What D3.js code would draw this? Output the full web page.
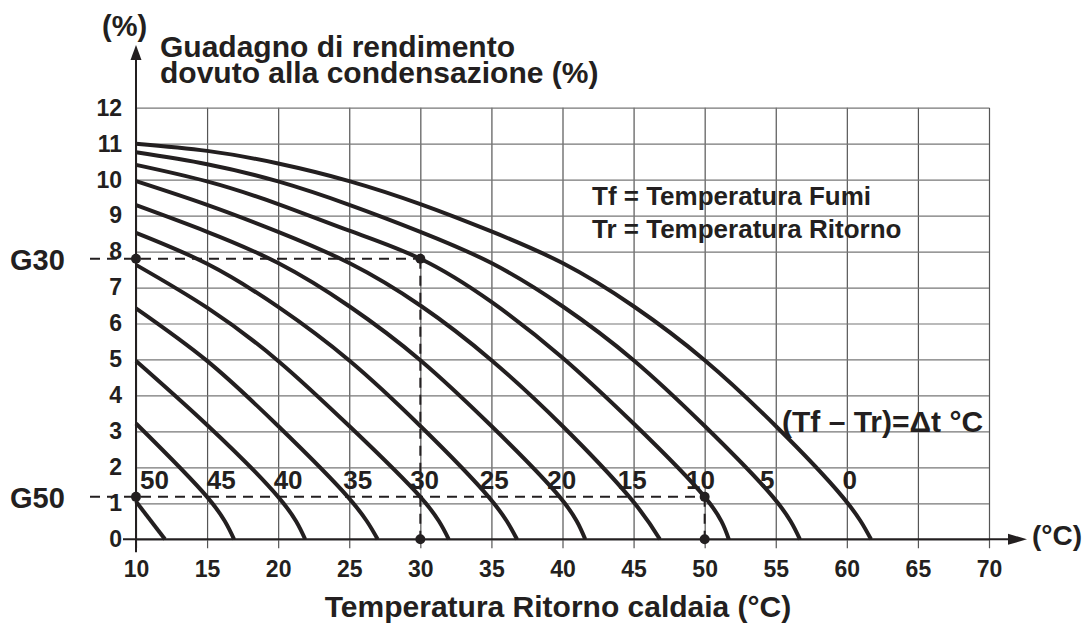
<!DOCTYPE html>
<html>
<head>
<meta charset="utf-8">
<script src="https://cdn.jsdelivr.net/npm/d3@7"></script>
<style>
  body { margin: 0; background: #fff; }
  svg text { font-family: "Liberation Sans", Arial, Helvetica, sans-serif; font-weight: bold; fill: #231f20; }
</style>
</head>
<body>
<svg id="chart" width="1084" height="625"></svg>
<script>
(function(){
  // tick values
  var xTicks = [10, 15, 20, 25, 30, 35, 40, 45, 50, 55, 60, 65, 70];
  var yTicks = [0, 1, 2, 3, 4, 5, 6, 7, 8, 9, 10, 11, 12];

  // one curve per (Tf - Tr) = dt, points [Tr, gain %]
  var deltaT = [0, 5, 10, 15, 20, 25, 30, 35, 40, 45, 50];
  var curveDt0  = [[10,11.0],[15,10.8],[20,10.45],[25,9.96],[30,9.32],[35,8.56],[40,7.68],[45,6.48],[50,4.98],[55,3.15],[59.7,1.18],[61.7,0]];
  var curveDt5  = [[10,10.76],[15,10.43],[20,9.95],[25,9.3],[30,8.55],[35,7.68],[40,6.48],[45,4.98],[50,3.15],[54.8,1.18],[56.7,0]];
  var curveDt10 = [[10,10.41],[15,9.95],[20,9.32],[25,8.58],[30,7.8],[35,6.6],[40,5.05],[45,3.22],[50,1.18],[51.7,0]];
  var curveDt15 = [[10,9.96],[15,9.3],[20,8.55],[25,7.68],[30,6.5],[35,4.98],[40,3.15],[44.7,1.18],[46.85,0]];
  var curveDt20 = [[10,9.29],[15,8.55],[20,7.68],[25,6.48],[30,4.98],[35,3.15],[39.8,1.18],[41.6,0]];
  var curveDt25 = [[10,8.52],[15,7.66],[20,6.46],[25,4.97],[30,3.15],[34.8,1.18],[36.8,0]];
  var curveDt30 = [[10,7.63],[15,6.44],[20,4.96],[25,3.15],[30,1.18],[32,0]];
  var curveDt35 = [[10,6.42],[15,4.96],[20,3.15],[24.9,1.18],[27,0]];
  var curveDt40 = [[10,4.96],[15,3.18],[20,1.18],[21.9,0]];
  var curveDt45 = [[10,3.22],[15,1.18],[16.9,0]];
  var curveDt50 = [[10,1.05],[12.04,0]];
  var curvePoints = [curveDt0, curveDt5, curveDt10, curveDt15, curveDt20, curveDt25,
                     curveDt30, curveDt35, curveDt40, curveDt45, curveDt50];
  // where the dt numbers sit along the Tr axis
  var labelTr = [60.2, 54.4, 49.7, 44.9, 39.95, 35.2, 30.3, 25.6, 20.7, 16.0, 11.3];

  // reading examples (label, Tr, gain)
  var readLabels = ['G30', 'G50'];
  var readTr     = [30, 50];
  var readGain   = [7.8, 1.18];

  var svg = d3.select('#chart');

  var x = d3.scaleLinear().domain([10, 70]).range([136, 989]);
  var y = d3.scaleLinear().domain([0, 12]).range([539.3, 107.7]);

  var ink = '#231f20';

  // vertical grid + x tick labels
  var xAxis = svg.append('g')
      .attr('transform', 'translate(0,' + (y(0) + 9) + ')')
      .call(d3.axisBottom(x).tickValues(xTicks).tickSize(-(y(0) + 9 - y(12))).tickSizeOuter(0).tickPadding(12));
  xAxis.select('.domain').remove();
  xAxis.selectAll('.tick line').attr('stroke', '#555').attr('stroke-width', 1.2);
  xAxis.selectAll('.tick text').style('font-size', '23px').attr('fill', ink);

  // horizontal grid + y tick labels
  var yAxis = svg.append('g')
      .attr('transform', 'translate(' + x(10) + ',0)')
      .call(d3.axisLeft(y).tickValues(yTicks).tickSize(-(x(70) - x(10))).tickSizeOuter(0).tickPadding(14));
  yAxis.select('.domain').remove();
  yAxis.selectAll('.tick line').attr('stroke', '#777').attr('stroke-width', 1.2);
  yAxis.selectAll('.tick text').style('font-size', '23px').attr('fill', ink);

  // main axes with arrows
  svg.append('line')
      .attr('x1', x(10) - 13).attr('x2', 1012)
      .attr('y1', y(0)).attr('y2', y(0))
      .attr('stroke', ink).attr('stroke-width', 2);
  svg.append('path')
      .attr('d', 'M1027,' + y(0) + 'L1008,' + (y(0) - 5.5) + 'L1008,' + (y(0) + 5.5) + 'Z')
      .attr('fill', ink);
  svg.append('line')
      .attr('x1', x(10)).attr('x2', x(10))
      .attr('y1', y(0) + 13).attr('y2', 56)
      .attr('stroke', ink).attr('stroke-width', 2);
  svg.append('path')
      .attr('d', 'M' + x(10) + ',45L' + (x(10) - 5.5) + ',60L' + (x(10) + 5.5) + ',60Z')
      .attr('fill', ink);

  // dashed reading lines
  var reads = svg.append('g');
  readLabels.forEach(function(lab, i){
    var px = x(readTr[i]), py = y(readGain[i]);
    reads.append('line')
        .attr('x1', x(10) - 46).attr('x2', px).attr('y1', py).attr('y2', py)
        .attr('stroke', ink).attr('stroke-width', 2).attr('stroke-dasharray', '10,7');
    reads.append('line')
        .attr('x1', px).attr('x2', px).attr('y1', py).attr('y2', y(0))
        .attr('stroke', ink).attr('stroke-width', 2).attr('stroke-dasharray', '10,7');
    [[x(10), py], [px, py], [px, y(0)]].forEach(function(p){
      reads.append('circle').attr('cx', p[0]).attr('cy', p[1]).attr('r', 5).attr('fill', ink);
    });
    reads.append('text')
        .attr('x', 10).attr('y', py + 11)
        .style('font-size', '29px')
        .text(lab);
  });

  // curves
  var line = d3.line()
      .x(function(d){ return x(d[0]); })
      .y(function(d){ return y(d[1]); })
      .curve(d3.curveNatural);

  svg.append('g')
    .selectAll('path')
    .data(curvePoints)
    .enter().append('path')
      .attr('d', line)
      .attr('fill', 'none')
      .attr('stroke', ink)
      .attr('stroke-width', 4);

  // dt labels
  svg.append('g')
    .selectAll('text')
    .data(deltaT)
    .enter().append('text')
      .attr('x', function(d, i){ return x(labelTr[i]); })
      .attr('y', 489)
      .attr('text-anchor', 'middle')
      .style('font-size', '26px')
      .text(function(d){ return d; });

  // texts
  svg.append('text').attr('x', 102).attr('y', 36).style('font-size', '29px').text('(%)');
  var title = svg.append('text').style('font-size', '30px');
  title.append('tspan').attr('x', 160).attr('y', 57).text('Guadagno di rendimento');
  title.append('tspan').attr('x', 160).attr('y', 83).text('dovuto alla condensazione (%)');
  var legend = svg.append('text').style('font-size', '26px');
  legend.append('tspan').attr('x', 592).attr('y', 205).text('Tf = Temperatura Fumi');
  legend.append('tspan').attr('x', 592).attr('y', 238).text('Tr = Temperatura Ritorno');
  svg.append('text').attr('x', 782).attr('y', 432).style('font-size', '30px').text('(Tf \u2013 Tr)=\u0394t \u00b0C');
  svg.append('text').attr('x', 1032).attr('y', 545).style('font-size', '28px').text('(\u00b0C)');
  svg.append('text').attr('x', 558).attr('y', 617).attr('text-anchor', 'middle').style('font-size', '30px').text('Temperatura Ritorno caldaia (\u00b0C)');
})();
</script>
</body>
</html>
